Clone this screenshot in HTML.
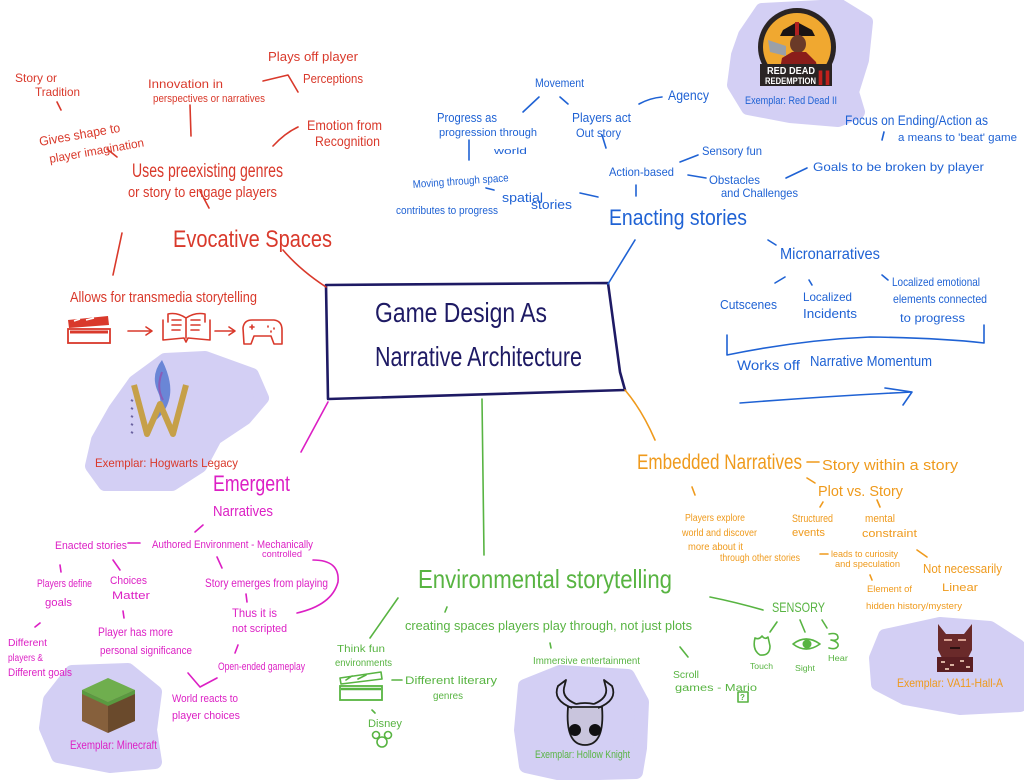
<!DOCTYPE html>
<html>
<head>
<meta charset="utf-8">
<style>
html,body{margin:0;padding:0;background:#fff;}
svg{display:block;}
text{font-family:"Liberation Sans","DejaVu Sans",sans-serif;}
.r{fill:#d9392b;} .b{fill:#1f62d4;} .m{fill:#dc1fc4;} .o{fill:#ef9a1c;} .g{fill:#58b442;} .n{fill:#1e1a64;}
.sr{stroke:#d9392b;fill:none;stroke-width:1.6;stroke-linecap:round;stroke-linejoin:round;}
.sb{stroke:#1f62d4;fill:none;stroke-width:1.6;stroke-linecap:round;stroke-linejoin:round;}
.sm{stroke:#dc1fc4;fill:none;stroke-width:1.6;stroke-linecap:round;stroke-linejoin:round;}
.so{stroke:#ef9a1c;fill:none;stroke-width:1.6;stroke-linecap:round;stroke-linejoin:round;}
.sg{stroke:#58b442;fill:none;stroke-width:1.6;stroke-linecap:round;stroke-linejoin:round;}
.blob{fill:#d3cff4;stroke:#d3cff4;stroke-width:14;stroke-linejoin:round;}
</style>
</head>
<body>
<svg width="1024" height="780" viewBox="0 0 1024 780" xmlns="http://www.w3.org/2000/svg">
<rect width="1024" height="780" fill="#ffffff"/>

<!-- lavender blobs -->
<path class="blob" d="M745,35 L762,10 L840,6 L866,22 L862,60 L852,92 L858,112 L838,120 L790,116 L748,108 L734,85 L738,55 Z"/>
<path class="blob" d="M165,360 L205,358 L252,375 L262,398 L245,418 L215,438 L200,466 L172,484 L105,484 L92,466 L98,440 L115,410 L135,382 Z"/>
<path class="blob" d="M72,672 L128,670 L155,692 L150,730 L155,762 L110,766 L58,756 L46,728 L50,700 Z"/>
<path class="blob" d="M525,686 L560,672 L628,676 L642,702 L640,748 L636,772 L562,774 L526,766 L521,730 Z"/>
<path class="blob" d="M885,636 L940,624 L990,628 L1018,646 L1020,705 L960,708 L905,698 L878,684 L876,658 Z"/>

<!-- central box -->
<path d="M326,285 L608,283 L620,372 L625,390 L328,399 Z" fill="none" stroke="#1e1a64" stroke-width="2.6" stroke-linejoin="round"/>
<text class="n" x="375" y="322" font-size="28" textLength="172" lengthAdjust="spacingAndGlyphs">Game Design As</text>
<text class="n" x="375" y="366" font-size="28" textLength="207" lengthAdjust="spacingAndGlyphs">Narrative Architecture</text>

<!-- ============ RED: Evocative Spaces ============ -->
<text class="r" x="15" y="82" font-size="12" textLength="42" lengthAdjust="spacingAndGlyphs">Story or</text>
<text class="r" x="35" y="96" font-size="12" textLength="45" lengthAdjust="spacingAndGlyphs">Tradition</text>
<path class="sr" d="M57,102 L61,110"/>
<text class="r" x="40" y="146" font-size="13" textLength="82" lengthAdjust="spacingAndGlyphs" transform="rotate(-10 40 146)">Gives shape to</text>
<text class="r" x="50" y="163" font-size="12" textLength="96" lengthAdjust="spacingAndGlyphs" transform="rotate(-10 50 163)">player imagination</text>
<path class="sr" d="M107,149 L117,157"/>
<text class="r" x="148" y="88" font-size="12" textLength="75" lengthAdjust="spacingAndGlyphs">Innovation in</text>
<text class="r" x="153" y="102" font-size="11" textLength="112" lengthAdjust="spacingAndGlyphs">perspectives or narratives</text>
<path class="sr" d="M190,105 L191,136"/>
<text class="r" x="268" y="61" font-size="13" textLength="90" lengthAdjust="spacingAndGlyphs">Plays off player</text>
<text class="r" x="303" y="83" font-size="13" textLength="60" lengthAdjust="spacingAndGlyphs">Perceptions</text>
<path class="sr" d="M263,81 L288,75 L298,92"/>
<text class="r" x="307" y="130" font-size="14" textLength="75" lengthAdjust="spacingAndGlyphs">Emotion from</text>
<text class="r" x="315" y="146" font-size="14" textLength="65" lengthAdjust="spacingAndGlyphs">Recognition</text>
<path class="sr" d="M273,146 Q285,133 298,127"/>
<text class="r" x="132" y="177" font-size="19" textLength="151" lengthAdjust="spacingAndGlyphs">Uses preexisting genres</text>
<text class="r" x="128" y="197" font-size="15" textLength="149" lengthAdjust="spacingAndGlyphs">or story to engage players</text>
<path class="sr" d="M200,191 L209,208"/>
<text class="r" x="173" y="247" font-size="24" textLength="159" lengthAdjust="spacingAndGlyphs">Evocative Spaces</text>
<path class="sr" d="M122,233 L113,275"/>
<path class="sr" d="M283,250 Q300,270 326,287"/>
<text class="r" x="70" y="302" font-size="15" textLength="187" lengthAdjust="spacingAndGlyphs">Allows for transmedia storytelling</text>
<!-- clapperboard -->
<path d="M68,320 L108,316 L109,325 L69,328 Z" fill="#d9392b"/>
<path d="M74,321 L80,319 M86,320 L94,318" stroke="#fff" stroke-width="1.5"/>
<rect x="68" y="329" width="42" height="14" fill="none" stroke="#d9392b" stroke-width="1.8"/>
<path d="M70,332 L108,332" stroke="#d9392b" stroke-width="3"/>
<path class="sr" d="M128,331 L152,331 M146,327 L152,331 L146,335"/>
<!-- book -->
<path class="sr" d="M163,320 L163,340 L184,338 L186,342 L188,338 L210,340 L210,320 M168,322 L168,314 Q177,312 186,318 Q195,312 205,314 L205,322 M186,318 L186,338"/>
<path class="sr" d="M172,320 L181,320 M172,325 L181,325 M172,330 L180,330 M191,320 L200,320 M191,325 L200,325 M191,330 L199,330"/>
<path class="sr" d="M215,331 L235,331 M229,327 L235,331 L229,335"/>
<!-- gamepad -->
<path class="sr" d="M244,344 L243,328 Q244,320 252,320 L274,320 Q282,321 282,330 L282,344 L274,344 L271,336 L254,336 L251,344 Z"/>
<path class="sr" d="M250,327 L254,327 M252,325 L252,329 M268,326 L268,327 M274,328 L274,329 M271,331 L271,332"/>

<!-- Hogwarts logo -->
<path d="M162,360 Q150,375 158,392 Q164,405 156,420 Q168,410 170,395 Q172,380 162,360 Z" fill="#6a86d6"/>
<path d="M162,372 Q156,388 163,400" stroke="#8a5cb8" stroke-width="2" fill="none"/>
<path d="M134,385 L147,434 L160,404 L173,434 L186,385" fill="none" stroke="#c6a048" stroke-width="6" stroke-linejoin="round"/>
<path d="M131,400 L133,401 M131,408 L133,409 M131,416 L133,417 M131,424 L133,425 M131,432 L133,433" stroke="#6a62a0" stroke-width="2"/>
<text class="r" x="95" y="467" font-size="12" textLength="143" lengthAdjust="spacingAndGlyphs">Exemplar: Hogwarts Legacy</text>

<!-- ============ BLUE: Enacting stories ============ -->
<!-- RDR2 logo -->
<circle cx="797" cy="47" r="39" fill="#2a2424"/>
<circle cx="797" cy="47" r="34" fill="#f0a830"/>
<path d="M783,30 L797,22 L812,30 L815,36 L780,36 Z" fill="#1a1414"/>
<rect x="795" y="22" width="4" height="14" fill="#b02020"/>
<ellipse cx="798" cy="44" rx="8" ry="9" fill="#6a3a28"/>
<path d="M778,80 L782,58 L792,52 L806,52 L816,62 L820,80 Z" fill="#8a1d1a"/>
<path d="M768,40 L786,46 L786,56 L770,52 Z" fill="#9aa0a8"/>
<rect x="760" y="64" width="72" height="22" fill="#2a2424"/>
<text x="767" y="74" font-size="10" font-weight="bold" fill="#fff" textLength="48" lengthAdjust="spacingAndGlyphs">RED DEAD</text>
<text x="765" y="84" font-size="9" font-weight="bold" fill="#fff" textLength="51" lengthAdjust="spacingAndGlyphs">REDEMPTION</text>
<text x="817" y="85" font-size="21" font-weight="bold" fill="#c0201c" textLength="14" lengthAdjust="spacingAndGlyphs">II</text>
<text class="b" x="745" y="104" font-size="11" textLength="92" lengthAdjust="spacingAndGlyphs">Exemplar: Red Dead II</text>

<text class="b" x="535" y="87" font-size="12" textLength="49" lengthAdjust="spacingAndGlyphs">Movement</text>
<path class="sb" d="M523,112 L539,97 M560,97 L568,104"/>
<text class="b" x="437" y="122" font-size="13" textLength="60" lengthAdjust="spacingAndGlyphs">Progress as</text>
<text class="b" x="439" y="136" font-size="11" textLength="98" lengthAdjust="spacingAndGlyphs">progression through</text>
<text class="b" x="494" y="154" font-size="9" textLength="33" lengthAdjust="spacingAndGlyphs">world</text>
<path class="sb" d="M469,140 L469,160"/>
<text class="b" x="572" y="122" font-size="13" textLength="59" lengthAdjust="spacingAndGlyphs">Players act</text>
<text class="b" x="576" y="137" font-size="12" textLength="45" lengthAdjust="spacingAndGlyphs">Out story</text>
<path class="sb" d="M602,135 L606,148"/>
<path class="sb" d="M639,104 Q650,98 662,97"/>
<text class="b" x="668" y="100" font-size="14" textLength="41" lengthAdjust="spacingAndGlyphs">Agency</text>
<text class="b" x="609" y="176" font-size="12" textLength="65" lengthAdjust="spacingAndGlyphs">Action-based</text>
<path class="sb" d="M680,162 L698,155"/>
<text class="b" x="702" y="155" font-size="12" textLength="60" lengthAdjust="spacingAndGlyphs">Sensory fun</text>
<path class="sb" d="M688,175 L706,178"/>
<text class="b" x="709" y="184" font-size="12" textLength="51" lengthAdjust="spacingAndGlyphs">Obstacles</text>
<text class="b" x="721" y="197" font-size="12" textLength="77" lengthAdjust="spacingAndGlyphs">and Challenges</text>
<path class="sb" d="M786,178 L807,168"/>
<text class="b" x="813" y="171" font-size="12" textLength="171" lengthAdjust="spacingAndGlyphs">Goals to be broken by player</text>
<text class="b" x="845" y="125" font-size="14" textLength="143" lengthAdjust="spacingAndGlyphs">Focus on Ending/Action as</text>
<path class="sb" d="M884,132 L882,140"/>
<text class="b" x="898" y="141" font-size="11" textLength="119" lengthAdjust="spacingAndGlyphs">a means to 'beat' game</text>
<path class="sb" d="M636,185 L636,196"/>
<text class="b" x="413" y="188" font-size="11" textLength="96" lengthAdjust="spacingAndGlyphs" transform="rotate(-4 413 188)">Moving through space</text>
<text class="b" x="396" y="214" font-size="11" textLength="102" lengthAdjust="spacingAndGlyphs">contributes to progress</text>
<path class="sb" d="M486,188 L494,190"/>
<text class="b" x="502" y="202" font-size="13" textLength="41" lengthAdjust="spacingAndGlyphs">spatial</text>
<text class="b" x="531" y="209" font-size="13" textLength="41" lengthAdjust="spacingAndGlyphs">stories</text>
<path class="sb" d="M580,193 L598,197"/>
<text class="b" x="609" y="225" font-size="22" textLength="138" lengthAdjust="spacingAndGlyphs">Enacting stories</text>
<path class="sb" d="M635,240 L608,284"/>
<path class="sb" d="M768,240 L776,245"/>
<text class="b" x="780" y="259" font-size="16" textLength="100" lengthAdjust="spacingAndGlyphs">Micronarratives</text>
<path class="sb" d="M775,283 L785,277 M809,280 L812,285 M882,275 L888,280"/>
<text class="b" x="720" y="309" font-size="13" textLength="57" lengthAdjust="spacingAndGlyphs">Cutscenes</text>
<text class="b" x="803" y="301" font-size="12" textLength="49" lengthAdjust="spacingAndGlyphs">Localized</text>
<text class="b" x="803" y="318" font-size="13" textLength="54" lengthAdjust="spacingAndGlyphs">Incidents</text>
<text class="b" x="892" y="286" font-size="12" textLength="88" lengthAdjust="spacingAndGlyphs">Localized emotional</text>
<text class="b" x="893" y="303" font-size="12" textLength="94" lengthAdjust="spacingAndGlyphs">elements connected</text>
<text class="b" x="900" y="322" font-size="12" textLength="65" lengthAdjust="spacingAndGlyphs">to progress</text>
<path class="sb" d="M727,335 L727,355 Q800,340 870,337 Q940,338 984,343 L984,325"/>
<text class="b" x="737" y="370" font-size="14" textLength="63" lengthAdjust="spacingAndGlyphs">Works off</text>
<text class="b" x="810" y="366" font-size="15" textLength="122" lengthAdjust="spacingAndGlyphs">Narrative Momentum</text>
<path class="sb" d="M740,403 Q830,396 912,392 M885,388 L912,392 L903,405"/>

<!-- ============ MAGENTA: Emergent Narratives ============ -->
<path class="sm" d="M328,402 L301,452"/>
<text class="m" x="213" y="491" font-size="22" textLength="77" lengthAdjust="spacingAndGlyphs">Emergent</text>
<text class="m" x="213" y="516" font-size="15" textLength="60" lengthAdjust="spacingAndGlyphs">Narratives</text>
<path class="sm" d="M195,532 L203,525"/>
<text class="m" x="55" y="549" font-size="11" textLength="72" lengthAdjust="spacingAndGlyphs">Enacted stories</text>
<path class="sm" d="M128,543 L140,543"/>
<text class="m" x="152" y="548" font-size="11" textLength="161" lengthAdjust="spacingAndGlyphs">Authored Environment - Mechanically</text>
<text class="m" x="262" y="557" font-size="9" textLength="40" lengthAdjust="spacingAndGlyphs">controlled</text>
<path class="sm" d="M60,565 L61,572 M113,560 L120,570"/>
<text class="m" x="37" y="587" font-size="11" textLength="55" lengthAdjust="spacingAndGlyphs">Players define</text>
<text class="m" x="45" y="606" font-size="11" textLength="27" lengthAdjust="spacingAndGlyphs">goals</text>
<text class="m" x="110" y="584" font-size="11" textLength="37" lengthAdjust="spacingAndGlyphs">Choices</text>
<text class="m" x="112" y="599" font-size="11" textLength="38" lengthAdjust="spacingAndGlyphs">Matter</text>
<path class="sm" d="M123,611 L124,618"/>
<text class="m" x="98" y="636" font-size="12" textLength="75" lengthAdjust="spacingAndGlyphs">Player has more</text>
<text class="m" x="100" y="654" font-size="11" textLength="92" lengthAdjust="spacingAndGlyphs">personal significance</text>
<path class="sm" d="M35,627 L40,623"/>
<text class="m" x="8" y="646" font-size="10" textLength="39" lengthAdjust="spacingAndGlyphs">Different</text>
<text class="m" x="8" y="661" font-size="10" textLength="35" lengthAdjust="spacingAndGlyphs">players &amp;</text>
<text class="m" x="8" y="676" font-size="11" textLength="64" lengthAdjust="spacingAndGlyphs">Different goals</text>
<path class="sm" d="M217,557 L222,568"/>
<text class="m" x="205" y="587" font-size="12" textLength="123" lengthAdjust="spacingAndGlyphs">Story emerges from playing</text>
<path class="sm" d="M313,560 Q340,560 338,582 Q332,605 297,613"/>
<path class="sm" d="M246,594 L247,602"/>
<text class="m" x="232" y="617" font-size="12" textLength="45" lengthAdjust="spacingAndGlyphs">Thus it is</text>
<text class="m" x="232" y="632" font-size="11" textLength="55" lengthAdjust="spacingAndGlyphs">not scripted</text>
<path class="sm" d="M238,645 L235,653"/>
<text class="m" x="218" y="670" font-size="11" textLength="87" lengthAdjust="spacingAndGlyphs">Open-ended gameplay</text>
<path class="sm" d="M188,673 L200,687 L217,678"/>
<text class="m" x="172" y="702" font-size="11" textLength="66" lengthAdjust="spacingAndGlyphs">World reacts to</text>
<text class="m" x="172" y="719" font-size="11" textLength="68" lengthAdjust="spacingAndGlyphs">player choices</text>
<!-- Minecraft block -->
<path d="M108,678 L135,690 L108,702 L82,690 Z" fill="#6fae4e"/>
<path d="M82,690 L108,702 L108,733 L82,721 Z" fill="#86603c"/>
<path d="M108,702 L135,690 L135,721 L108,733 Z" fill="#6a4a2c"/>
<path d="M82,690 L108,702 L135,690 L135,694 L108,706 L82,694 Z" fill="#5a9a40"/>
<text class="m" x="70" y="749" font-size="12" textLength="87" lengthAdjust="spacingAndGlyphs">Exemplar: Minecraft</text>

<!-- ============ GREEN: Environmental storytelling ============ -->
<path class="sg" d="M482,399 L484,555"/>
<text class="g" x="418" y="588" font-size="26" textLength="254" lengthAdjust="spacingAndGlyphs">Environmental storytelling</text>
<path class="sg" d="M398,598 L370,638"/>
<path class="sg" d="M447,607 L445,612"/>
<text class="g" x="405" y="630" font-size="13" textLength="287" lengthAdjust="spacingAndGlyphs">creating spaces players play through, not just plots</text>
<path class="sg" d="M550,643 L551,648"/>
<text class="g" x="533" y="664" font-size="10" textLength="107" lengthAdjust="spacingAndGlyphs">Immersive entertainment</text>
<text class="g" x="337" y="652" font-size="10" textLength="48" lengthAdjust="spacingAndGlyphs">Think fun</text>
<text class="g" x="335" y="666" font-size="10" textLength="57" lengthAdjust="spacingAndGlyphs">environments</text>
<!-- green clapperboard -->
<path class="sg" d="M340,678 L381,672 L382,679 L341,684 Z M346,680 L352,676 M358,679 L366,675"/>
<rect x="340" y="686" width="42" height="14" fill="none" stroke="#58b442" stroke-width="1.8"/>
<path d="M341,689 L381,689" stroke="#58b442" stroke-width="2.5"/>
<path class="sg" d="M392,680 L402,680"/>
<text class="g" x="405" y="684" font-size="11" textLength="92" lengthAdjust="spacingAndGlyphs">Different literary</text>
<text class="g" x="433" y="699" font-size="10" textLength="30" lengthAdjust="spacingAndGlyphs">genres</text>
<path class="sg" d="M372,710 L375,713"/>
<text class="g" x="368" y="727" font-size="11" textLength="34" lengthAdjust="spacingAndGlyphs">Disney</text>
<circle cx="382" cy="742" r="5" class="sg"/>
<circle cx="376" cy="735" r="3.5" class="sg"/>
<circle cx="388" cy="735" r="3.5" class="sg"/>
<!-- Hollow Knight -->
<path d="M568,707 Q565,745 585,745 Q605,745 602,707 Z" fill="#c9c5dd" stroke="#1c1c1c" stroke-width="1.8"/>
<path d="M572,708 Q552,700 558,686 L566,680 L564,688 Q562,698 576,704" fill="none" stroke="#1c1c1c" stroke-width="1.8" stroke-linejoin="round"/>
<path d="M598,708 Q618,700 612,686 L604,680 L606,688 Q608,698 594,704" fill="none" stroke="#1c1c1c" stroke-width="1.8" stroke-linejoin="round"/>
<path d="M576,704 Q585,702 594,704" fill="none" stroke="#1c1c1c" stroke-width="1.8"/>
<circle cx="575" cy="730" r="6" fill="#111"/>
<circle cx="595" cy="730" r="6" fill="#111"/>
<text class="g" x="535" y="758" font-size="11" textLength="95" lengthAdjust="spacingAndGlyphs">Exemplar: Hollow Knight</text>
<path class="sg" d="M680,647 L688,657"/>
<text class="g" x="673" y="678" font-size="10" textLength="26" lengthAdjust="spacingAndGlyphs">Scroll</text>
<text class="g" x="675" y="691" font-size="10" textLength="82" lengthAdjust="spacingAndGlyphs">games - Mario</text>
<rect x="738" y="692" width="10" height="10" class="sg"/>
<text class="g" x="740" y="700" font-size="8" font-weight="bold">?</text>
<path class="sg" d="M710,597 Q735,602 763,610"/>
<text class="g" x="772" y="612" font-size="14" textLength="53" lengthAdjust="spacingAndGlyphs">SENSORY</text>
<path class="sg" d="M777,622 L770,632 M800,620 L805,632 M822,620 L827,628"/>
<!-- touch -->
<path class="sg" d="M755,638 Q752,650 760,655 Q770,656 770,646 L768,637 Q765,640 762,636 Q759,640 755,638"/>
<text class="g" x="750" y="669" font-size="8" textLength="23" lengthAdjust="spacingAndGlyphs">Touch</text>
<!-- eye -->
<path class="sg" d="M793,644 Q806,634 820,644 Q806,654 793,644 Z"/>
<circle cx="807" cy="644" r="4.5" fill="#58b442"/>
<text class="g" x="795" y="671" font-size="8" textLength="20" lengthAdjust="spacingAndGlyphs">Sight</text>
<!-- ear -->
<path class="sg" d="M829,634 Q838,632 838,638 Q837,641 831,640 Q839,642 838,646 Q836,650 829,648"/>
<text class="g" x="828" y="661" font-size="8" textLength="20" lengthAdjust="spacingAndGlyphs">Hear</text>

<!-- ============ ORANGE: Embedded Narratives ============ -->
<path class="so" d="M625,390 Q642,410 655,440"/>
<text class="o" x="637" y="469" font-size="21" textLength="165" lengthAdjust="spacingAndGlyphs">Embedded Narratives</text>
<path class="so" d="M807,462 L819,462"/>
<text class="o" x="822" y="470" font-size="15" textLength="136" lengthAdjust="spacingAndGlyphs">Story within a story</text>
<path class="so" d="M692,487 L695,495"/>
<path class="so" d="M807,478 L815,483"/>
<text class="o" x="818" y="496" font-size="15" textLength="85" lengthAdjust="spacingAndGlyphs">Plot vs. Story</text>
<path class="so" d="M820,507 L823,502 M877,500 L880,507"/>
<text class="o" x="685" y="521" font-size="10" textLength="60" lengthAdjust="spacingAndGlyphs">Players explore</text>
<text class="o" x="682" y="536" font-size="10" textLength="75" lengthAdjust="spacingAndGlyphs">world and discover</text>
<text class="o" x="688" y="550" font-size="10" textLength="55" lengthAdjust="spacingAndGlyphs">more about it</text>
<text class="o" x="720" y="561" font-size="10" textLength="80" lengthAdjust="spacingAndGlyphs">through other stories</text>
<text class="o" x="792" y="522" font-size="11" textLength="41" lengthAdjust="spacingAndGlyphs">Structured</text>
<text class="o" x="792" y="536" font-size="11" textLength="33" lengthAdjust="spacingAndGlyphs">events</text>
<text class="o" x="865" y="522" font-size="11" textLength="30" lengthAdjust="spacingAndGlyphs">mental</text>
<text class="o" x="862" y="537" font-size="11" textLength="55" lengthAdjust="spacingAndGlyphs">constraint</text>
<path class="so" d="M820,554 L828,554"/>
<text class="o" x="831" y="557" font-size="9" textLength="67" lengthAdjust="spacingAndGlyphs">leads to curiosity</text>
<text class="o" x="835" y="567" font-size="9" textLength="65" lengthAdjust="spacingAndGlyphs">and speculation</text>
<path class="so" d="M870,575 L872,580"/>
<text class="o" x="867" y="592" font-size="9" textLength="45" lengthAdjust="spacingAndGlyphs">Element of</text>
<text class="o" x="866" y="609" font-size="9" textLength="96" lengthAdjust="spacingAndGlyphs">hidden history/mystery</text>
<path class="so" d="M917,550 L927,557"/>
<text class="o" x="923" y="573" font-size="13" textLength="79" lengthAdjust="spacingAndGlyphs">Not necessarily</text>
<text class="o" x="942" y="591" font-size="11" textLength="36" lengthAdjust="spacingAndGlyphs">Linear</text>
<!-- VA-11 character -->
<path d="M938,624 L946,634 L964,634 L972,624 L972,650 L968,658 L942,658 L938,650 Z" fill="#6a2a2a"/>
<path d="M944,640 L952,640 M958,640 L966,640" stroke="#d8a090" stroke-width="2"/>
<path d="M950,648 L960,648" stroke="#2a1010" stroke-width="2"/>
<rect x="937" y="657" width="36" height="15" fill="#5a1e22"/>
<path d="M941,662 L945,662 M950,665 L954,665 M960,661 L964,661 M966,667 L970,667 M945,669 L949,669" stroke="#d8b0a0" stroke-width="2"/>
<text class="o" x="897" y="687" font-size="12" textLength="106" lengthAdjust="spacingAndGlyphs">Exemplar: VA11-Hall-A</text>

</svg>
</body>
</html>
